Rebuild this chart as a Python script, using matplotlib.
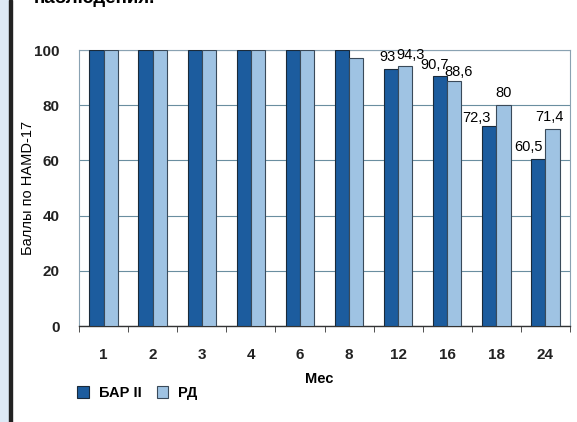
import matplotlib.pyplot as plt
import numpy as np
from matplotlib.patches import Rectangle

months = ['1', '2', '3', '4', '6', '8', '12', '16', '18', '24']
bar2 = [100, 100, 100, 100, 100, 100, 93, 90.7, 72.3, 60.5]
rd = [100, 100, 100, 100, 100, 97, 94.3, 88.6, 80, 71.4]
shown = [False] * 6 + [True] * 4

# horizontal nudges for the value labels, in pixels
nudge_dark = [0] * 6 + [-4, -6, -13, -10]
nudge_light = [0] * 6 + [5, 4, 0, -3]
lift_dark = [0] * 6 + [5, 4, 1, 5]
lift_light = [0] * 6 + [4, 2, 5, 5]

dark = '#1c5c9e'
light = '#9fc3e3'
grid_c = '#6a8ea0'

plt.rcParams['font.family'] = ['Liberation Sans', 'DejaVu Sans']

fig = plt.figure(figsize=(5.77, 4.22), dpi=100)

# side panel and frame line on the left
fig.patches.append(Rectangle((0, 0), 9 / 577, 1, transform=fig.transFigure,
                             color='#dde9f5', zorder=0))
fig.patches.append(Rectangle((9 / 577, 0), 3 / 577, 1, transform=fig.transFigure,
                             color='#222222', zorder=0))
fig.text(34 / 577, 1.026, 'наблюдения.', fontsize=13.5, fontweight='bold',
         ha='left', va='top')

ax = fig.add_axes([79 / 577, 96 / 422, 491 / 577, 276 / 422])
x = np.arange(len(months))
w = 0.29
ax.bar(x - w / 2, bar2, w, color=dark, edgecolor='#1a2a3a', linewidth=0.8,
       label='БАР II', zorder=3)
ax.bar(x + w / 2, rd, w, color=light, edgecolor='#3a4a5a', linewidth=0.8,
       label='РД', zorder=3)

px = 0.72
for i in range(len(months)):
    if not shown[i]:
        continue
    a = f'{bar2[i]:g}'.replace('.', ',')
    b = f'{rd[i]:g}'.replace('.', ',')
    ax.annotate(a, (x[i] - w / 2, bar2[i]),
                xytext=(nudge_dark[i] * px, lift_dark[i] * px),
                textcoords='offset points', ha='center', va='bottom', fontsize=10.5)
    ax.annotate(b, (x[i] + w / 2, rd[i]),
                xytext=(nudge_light[i] * px, lift_light[i] * px),
                textcoords='offset points', ha='center', va='bottom', fontsize=10.5)

ax.set_xlim(-0.5, len(months) - 0.5)
ax.set_ylim(0, 100)
ax.set_yticks([0, 20, 40, 60, 80, 100])
ax.set_xticks(x)
ax.set_xticklabels(months)
ax.set_xticks(np.arange(len(months) + 1) - 0.5, minor=True)
ax.tick_params(axis='x', which='major', length=0, pad=16, labelsize=11)
ax.tick_params(axis='x', which='minor', length=4, color='#333333', direction='out')
ax.tick_params(axis='y', length=0, pad=14, labelsize=11)
for t in ax.get_xticklabels() + ax.get_yticklabels():
    t.set_fontweight('bold')
    t.set_color('#222222')

ax.grid(axis='y', color=grid_c, linewidth=0.8, zorder=0)
for s in ['top', 'right', 'left']:
    ax.spines[s].set_color('#8aa2b2')
    ax.spines[s].set_linewidth(0.8)
ax.spines['bottom'].set_color('#333333')
ax.spines['bottom'].set_linewidth(1.0)

ax.set_ylabel('Баллы по HAMD-17', fontsize=10.5)
ax.yaxis.set_label_coords(-44 / 491, 0.5)
ax.set_xlabel('Мес', fontsize=10.5, fontweight='bold')
ax.xaxis.set_label_coords(0.49, -46 / 276)

ax.legend(loc='upper left', bbox_to_anchor=(-0.03, -0.17), ncol=2,
          frameon=False, handlelength=0.8, handleheight=0.8,
          columnspacing=1.0, handletextpad=0.7,
          prop={'weight': 'bold', 'size': 10.5})

fig.savefig('out.png', dpi=100)
